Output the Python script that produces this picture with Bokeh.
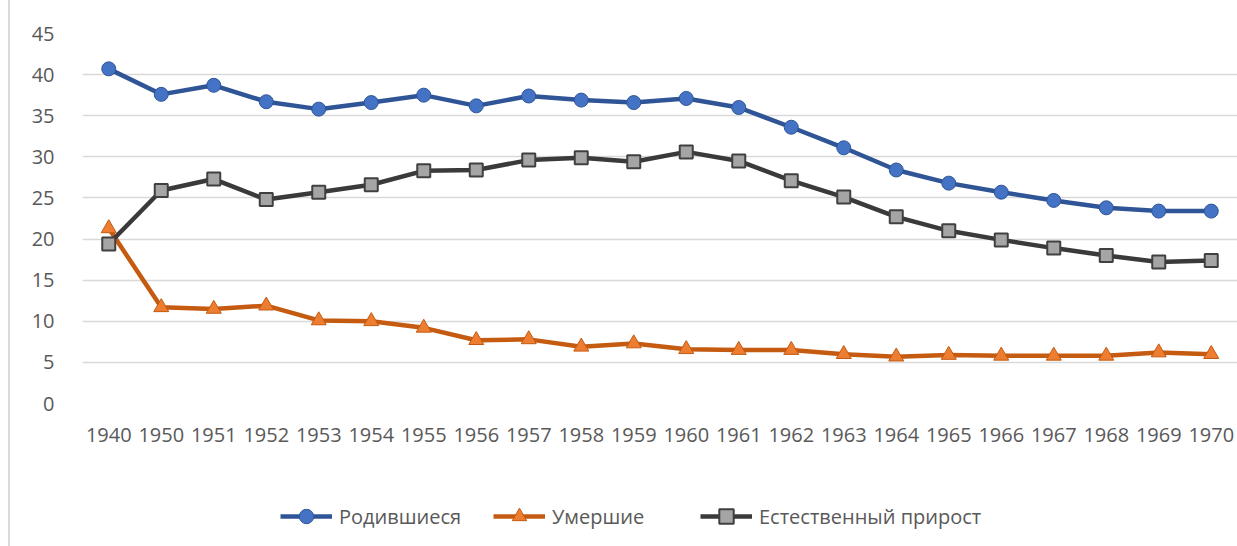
from bokeh.plotting import figure
from bokeh.layouts import column
from bokeh.models import FactorRange, Range1d, Legend, LegendItem, FixedTicker, ColumnDataSource
from bokeh.embed import file_html
from bokeh.resources import INLINE

years = ["1940", "1950", "1951", "1952", "1953", "1954", "1955", "1956", "1957", "1958", "1959",
         "1960", "1961", "1962", "1963", "1964", "1965", "1966", "1967", "1968", "1969", "1970"]
births = [40.7, 37.6, 38.7, 36.7, 35.8, 36.6, 37.5, 36.2, 37.4, 36.9, 36.6,
          37.1, 36.0, 33.6, 31.1, 28.4, 26.8, 25.7, 24.7, 23.8, 23.4, 23.4]
deaths = [21.3, 11.7, 11.5, 11.9, 10.1, 10.0, 9.2, 7.7, 7.8, 6.9, 7.3,
          6.6, 6.5, 6.5, 6.0, 5.7, 5.9, 5.8, 5.8, 5.8, 6.2, 6.0]
increase = [19.4, 25.9, 27.3, 24.8, 25.7, 26.6, 28.3, 28.4, 29.6, 29.9, 29.4,
            30.6, 29.5, 27.1, 25.1, 22.7, 21.0, 19.9, 18.9, 18.0, 17.2, 17.4]
y_ticks = [0, 5, 10, 15, 20, 25, 30, 35, 40, 45]
series_names = ["Родившиеся", "Умершие", "Естественный прирост"]

FONT = "Open Sans"
FS = "20px"
TXT = "#595959"
styles = [
    dict(marker="circle", size=14, line="#2F5597", fill="#4472C4", edge="#2F5597", ew=1),
    dict(marker="triangle", size=15, line="#C55A11", fill="#ED7D31", edge="#C55A11", ew=1),
    dict(marker="square", size=13, line="#3A3A3A", fill="#A5A5A5", edge="#404040", ew=2),
]

src = ColumnDataSource(dict(x=years, b=births, d=deaths, n=increase))

p = figure(x_range=FactorRange(*years, range_padding=0), y_range=Range1d(0, 45),
           width=1237, height=470, output_backend="svg", toolbar_location=None,
           min_border_left=82, min_border_right=0, min_border_top=33, min_border_bottom=67)
p.outline_line_color = None
p.border_fill_color = None
p.xgrid.grid_line_color = None
p.ygrid.grid_line_color = "#D9D9D9"
p.ygrid.grid_line_width = 1.5
p.yaxis.ticker = FixedTicker(ticks=y_ticks)

for ax in (p.xaxis[0], p.yaxis[0]):
    ax.axis_line_color = None
    ax.major_tick_line_color = None
    ax.minor_tick_line_color = None
    ax.major_label_text_font = FONT
    ax.major_label_text_font_size = FS
    ax.major_label_text_color = TXT
p.xaxis.major_label_standoff = 18
p.yaxis.major_label_standoff = 22

for col, st in zip(["b", "d", "n"], styles):
    p.line("x", col, source=src, line_color=st["line"], line_width=4.5)
    p.scatter("x", col, source=src, marker=st["marker"], size=st["size"],
              fill_color=st["fill"], line_color=st["edge"], line_width=st["ew"])

# legend strip (frame is aligned with the main frame, starting at x=82)
q = figure(x_range=Range1d(0, 1155), y_range=Range1d(0, 76), width=1237, height=76,
           output_backend="svg", toolbar_location=None,
           min_border_left=82, min_border_right=0, min_border_top=0, min_border_bottom=0)
q.outline_line_color = None
q.border_fill_color = None
q.xaxis.visible = False
q.yaxis.visible = False
q.grid.visible = False

legend_x = [198, 411, 618]
for name, st, lx in zip(series_names, styles, legend_x):
    r1 = q.line(x=[-100, -90], y=[-100, -100], line_color=st["line"], line_width=4.5)
    r2 = q.scatter(x=[-100], y=[-100], marker=st["marker"], size=st["size"],
                   fill_color=st["fill"], line_color=st["edge"], line_width=st["ew"])
    lg = Legend(items=[LegendItem(label=name, renderers=[r1, r2])], location=(lx, 12))
    lg.label_text_font = FONT
    lg.label_text_font_size = FS
    lg.label_text_color = TXT
    lg.glyph_width = 52
    lg.glyph_height = 36
    lg.label_height = 36
    lg.label_standoff = 7
    lg.border_line_color = None
    lg.background_fill_alpha = 0
    lg.margin = 0
    lg.padding = 0
    q.add_layout(lg, "center")

layout = column(p, q, spacing=0)
layout.styles = {"background": "linear-gradient(to right, white 8px, #D9D9D9 8px, #D9D9D9 10px, white 10px)"}
open("out.html", "w").write(file_html(layout, INLINE))
